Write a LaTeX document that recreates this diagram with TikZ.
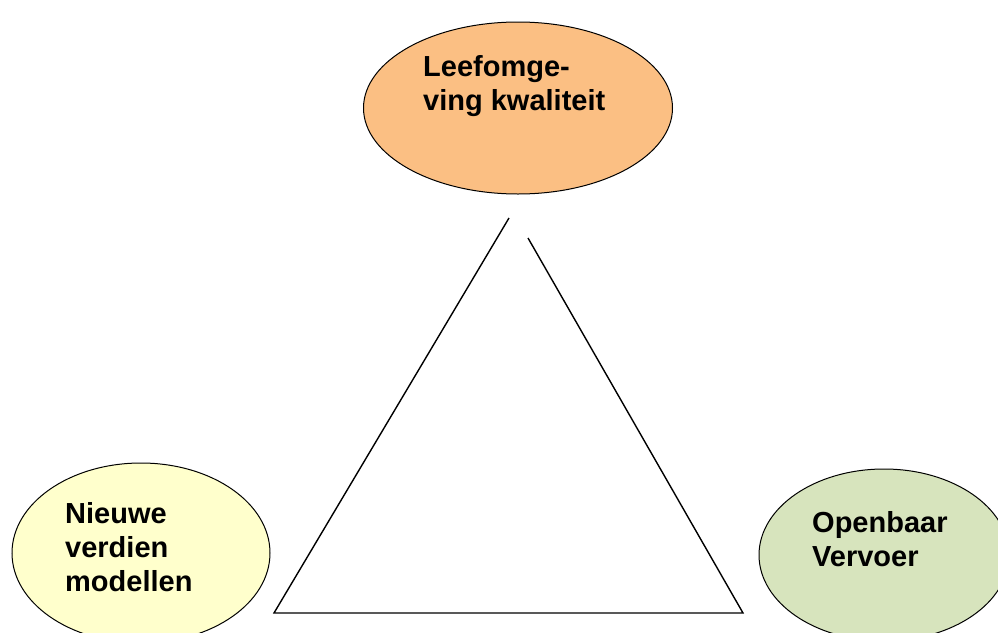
\documentclass[tikz,border=0pt]{standalone}
\usepackage{fontspec}
\setmainfont{Liberation Sans}
\usetikzlibrary{shapes.geometric,positioning}

\begin{document}
\begin{tikzpicture}[x=1pt,y=-1pt,
	blob/.style={ellipse,draw=black,line width=1pt,inner sep=0pt},
	blobtext/.style={anchor=north west,align=left,inner sep=0pt,
		font=\fontsize{29}{34}\selectfont\bfseries}]
		\clip (0,0) rectangle (998,632);
		%the three ellipses
		\node [blob,fill={rgb,255:red,251;green,191;blue,131},
			minimum width=309pt,minimum height=172pt] (leef) at (518,108) {};
		\node [blob,fill={rgb,255:red,255;green,255;blue,204},
			minimum width=258pt,minimum height=180pt] (nieuw) at (141,553) {};
		\node [blob,fill={rgb,255:red,215;green,228;blue,189},
			minimum width=250pt,minimum height=172pt] (ov) at (884,555) {};
		\node [blobtext] (leeftxt) at (423,55) {Leefomge-\\ving kwaliteit};
		\node [blobtext] (nieuwtxt) at (65,502) {Nieuwe\\verdien\\modellen};
		\node [blobtext] (ovtxt) at (812,511) {Openbaar\\Vervoer};
		
		%open triangle
		\coordinate (topl) at (509,218);
		\coordinate (topr) at (528,238);
		\coordinate (botl) at (274,613);
		\coordinate (botr) at (743,613);
		\draw [line width=1.4pt] (topl) -- (botl) -- (botr) -- (topr);
		%\draw (topl) -- (topr);
		\end{tikzpicture}
\end{document}
